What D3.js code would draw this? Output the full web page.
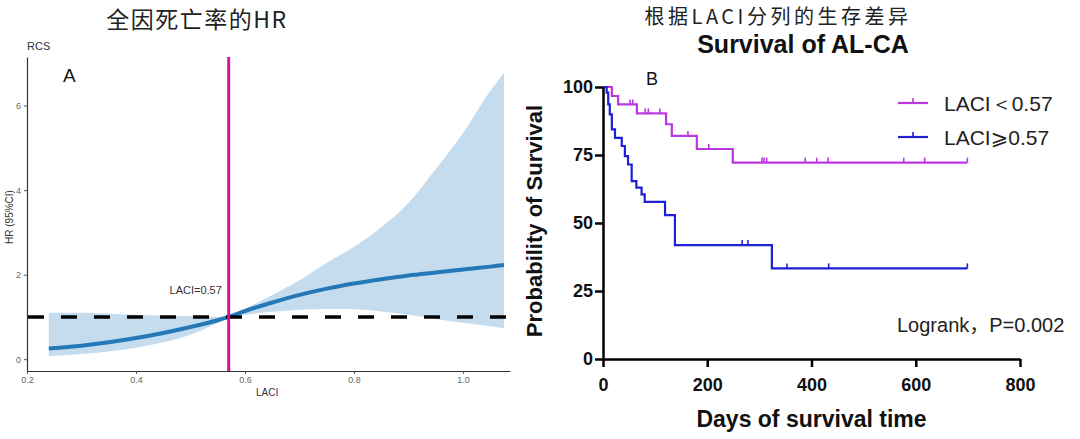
<!DOCTYPE html>
<html><head><meta charset="utf-8">
<script src="https://cdn.jsdelivr.net/npm/d3@7"></script>
<style>
html,body{margin:0;padding:0;background:#fff;}
svg{display:block;}
</style></head>
<body>
<svg id="c" width="1080" height="439"></svg>
<script>
// ---- Panel A data (RCS) ----
const laci      = [0.24,0.30,0.35,0.40,0.45,0.50,0.55,0.57,0.60,0.65,0.70,0.75,0.80,0.85,0.90,0.95,1.00,1.05,1.075];
const hr        = [0.25,0.32,0.40,0.50,0.62,0.76,0.92,1.00,1.14,1.34,1.52,1.67,1.79,1.89,1.98,2.05,2.12,2.19,2.23];
const hrLower   = [0.07,0.12,0.18,0.27,0.40,0.58,0.86,1.00,1.05,1.12,1.17,1.19,1.18,1.13,1.05,0.95,0.86,0.78,0.73];
const hrUpper   = [1.10,1.10,1.08,1.05,1.03,1.02,1.00,1.00,1.19,1.52,1.87,2.28,2.66,3.12,3.70,4.50,5.35,6.35,6.78];
const xTicksA   = [0.2,0.4,0.6,0.8,1.0];
const yTicksA   = [0,2,4,6];
const cutoff    = 0.57;
const refHR     = 1;

// ---- Panel B data (Kaplan-Meier) ----
const lowTimes   = [0,17,29,65,121,132,180,249,699];
const lowSurv    = [100,96.7,93.6,90.3,86.3,82.0,77.2,72.2,72.2];
const lowCensor  = [52,57,81,87,109,163,203,305,309,314,388,410,432,577,617,699];
const highTimes  = [0,7,10,13,17,23,36,42,48,55,64,74,80,119,138,324,699];
const highSurv   = [100,97.9,93.6,89.9,84.4,81.3,78.3,74.6,71.5,65.4,63.0,60.5,57.8,52.9,41.9,33.3,33.3];
const highCensor = [138,267,278,353,433,699];
const xTicksB    = [0,200,400,600,800];
const yTicksB    = [0,25,50,75,100];
const groups     = ["LACI＜0.57","LACI⩾0.57"];
const colors     = ["#bb38e0","#1f1fd6"];

const svg = d3.select("#c");
const SANS = "Liberation Sans,Arial,sans-serif";
const CJK = "'Noto Sans CJK SC',sans-serif";

// ================= Panel A =================
const xA = d3.scaleLinear().domain([0.2,1.086]).range([27,510]);
const yA = d3.scaleLinear().domain([-0.28,7.15]).range([371,57]);

svg.append("text").attr("x",197).attr("y",28).attr("text-anchor","middle")
  .attr("font-family",CJK).attr("font-size",23).attr("letter-spacing",1.5).attr("fill","#222")
  .text("全因死亡率的HR");
svg.append("text").attr("x",27).attr("y",50)
  .attr("font-family",SANS).attr("font-size",11).attr("fill","#333").text("RCS");
svg.append("text").attr("x",63).attr("y",82)
  .attr("font-family",SANS).attr("font-size",19).attr("fill","#111").text("A");

const bandData = laci.map((v,i)=>({x:v,lo:hrLower[i],hi:hrUpper[i],y:hr[i]}));
svg.append("path").datum(bandData)
  .attr("d",d3.area().x(d=>xA(d.x)).y0(d=>yA(d.lo)).y1(d=>yA(d.hi)).curve(d3.curveMonotoneX))
  .attr("fill","#c4dcee");
svg.append("path").datum(bandData)
  .attr("d",d3.line().x(d=>xA(d.x)).y(d=>yA(d.y)).curve(d3.curveCatmullRom))
  .attr("fill","none").attr("stroke","#2478b8").attr("stroke-width",4);

svg.append("line").attr("x1",xA(0.2)+1).attr("x2",xA(1.086)+5).attr("y1",yA(refHR)).attr("y2",yA(refHR))
  .attr("stroke","#000").attr("stroke-width",3.5).attr("stroke-dasharray","16,17");
svg.append("line").attr("x1",xA(cutoff)).attr("x2",xA(cutoff)).attr("y1",yA(7.15)).attr("y2",yA(-0.28))
  .attr("stroke","#d2159a").attr("stroke-width",3);
svg.append("text").attr("x",xA(cutoff)-33).attr("y",yA(1.55))
  .attr("text-anchor","middle").attr("font-family",SANS)
  .attr("font-size",11).attr("fill","#333").text("LACI=0.57");

const axA = svg.append("g").attr("transform","translate(0,371)")
  .call(d3.axisBottom(xA).tickValues(xTicksA).tickFormat(d3.format(".1f")).tickSize(3).tickSizeOuter(0));
const ayA = svg.append("g").attr("transform","translate(27,0)")
  .call(d3.axisLeft(yA).tickValues(yTicksA).tickSize(3).tickSizeOuter(0));
[axA,ayA].forEach(g=>{
  g.select(".domain").attr("stroke","#333").attr("stroke-width",1.2);
  g.selectAll(".tick line").attr("stroke","#555");
  g.selectAll("text").attr("font-family",SANS).attr("font-size",9).attr("fill","#666");
});
svg.append("text").attr("x",xA(0.6)+22).attr("y",396).attr("text-anchor","middle")
  .attr("font-family",SANS).attr("font-size",10).attr("fill","#333").text("LACI");
svg.append("text").attr("transform","translate(13,217) rotate(-90)").attr("text-anchor","middle")
  .attr("font-family",SANS).attr("font-size",10).attr("fill","#333").text("HR (95%CI)");

// ================= Panel B =================
const xB = d3.scaleLinear().domain([0,800]).range([603,1020]);
const yB = d3.scaleLinear().domain([0,100]).range([359,87]);

svg.append("text").attr("x",778).attr("y",24).attr("text-anchor","middle")
  .attr("font-family",CJK).attr("font-size",20).attr("letter-spacing",3.5).attr("fill","#222")
  .text("根据LACI分列的生存差异");
svg.append("text").attr("x",803).attr("y",53).attr("text-anchor","middle")
  .attr("font-family",SANS).attr("font-weight","bold").attr("font-size",25).attr("fill","#111")
  .text("Survival of AL-CA");
svg.append("text").attr("x",646).attr("y",85)
  .attr("font-family",SANS).attr("font-size",18).attr("fill","#111").text("B");

function km(times,surv,censor,color){
  const pts = times.map((t,i)=>[t,surv[i]]);
  svg.append("path").datum(pts)
    .attr("d",d3.line().x(d=>xB(d[0])).y(d=>yB(d[1])).curve(d3.curveStepAfter))
    .attr("fill","none").attr("stroke",color).attr("stroke-width",2.2);
  const level = t=>{ let s=surv[0]; for(let i=0;i<times.length;i++){ if(times[i]<=t) s=surv[i]; } return s; };
  svg.append("g").selectAll("line").data(censor).join("line")
    .attr("x1",d=>xB(d)).attr("x2",d=>xB(d)).attr("y1",d=>yB(level(d))).attr("y2",d=>yB(level(d))-5)
    .attr("stroke",color).attr("stroke-width",1.6);
}
km(lowTimes,lowSurv,lowCensor,colors[0]);
km(highTimes,highSurv,highCensor,colors[1]);

const axB = svg.append("g").attr("transform","translate(0,"+yB(0)+")")
  .call(d3.axisBottom(xB).tickValues(xTicksB).tickSize(8).tickSizeOuter(0).tickPadding(11));
const ayB = svg.append("g").attr("transform","translate("+xB(0)+",0)")
  .call(d3.axisLeft(yB).tickValues(yTicksB).tickSize(8).tickSizeOuter(0).tickPadding(2));
[axB,ayB].forEach(g=>{
  g.select(".domain").attr("stroke","#000").attr("stroke-width",2.5);
  g.selectAll(".tick line").attr("stroke","#000").attr("stroke-width",2.5);
  g.selectAll("text").attr("font-family",SANS).attr("font-weight","bold")
    .attr("font-size",18).attr("fill","#111");
});
svg.append("text").attr("x",xB(400)).attr("y",427).attr("text-anchor","middle")
  .attr("font-family",SANS).attr("font-weight","bold").attr("font-size",23).attr("fill","#111")
  .text("Days of survival time");
svg.append("text").attr("transform","translate(542,221) rotate(-90)").attr("text-anchor","middle")
  .attr("font-family",SANS).attr("font-weight","bold").attr("font-size",22).attr("fill","#111")
  .text("Probability of Survival");

// legend
const leg = svg.append("g");
groups.forEach((g,i)=>{
  const y = 103 + i*34;
  leg.append("line").attr("x1",898).attr("x2",928).attr("y1",y).attr("y2",y).attr("stroke",colors[i]).attr("stroke-width",2.2);
  leg.append("line").attr("x1",913).attr("x2",913).attr("y1",y).attr("y2",y-5).attr("stroke",colors[i]).attr("stroke-width",1.6);
  leg.append("text").attr("x",944).attr("y",y+8)
    .attr("font-family","Liberation Sans,Arial,'DejaVu Sans',sans-serif").attr("font-size",21).attr("fill","#222").text(g);
});
svg.append("text").attr("x",897).attr("y",332)
  .attr("font-family","Liberation Sans,Arial,'Noto Sans CJK SC',sans-serif").attr("font-size",20).attr("fill","#222")
  .text("Logrank，P=0.002");
</script>
</body></html>
